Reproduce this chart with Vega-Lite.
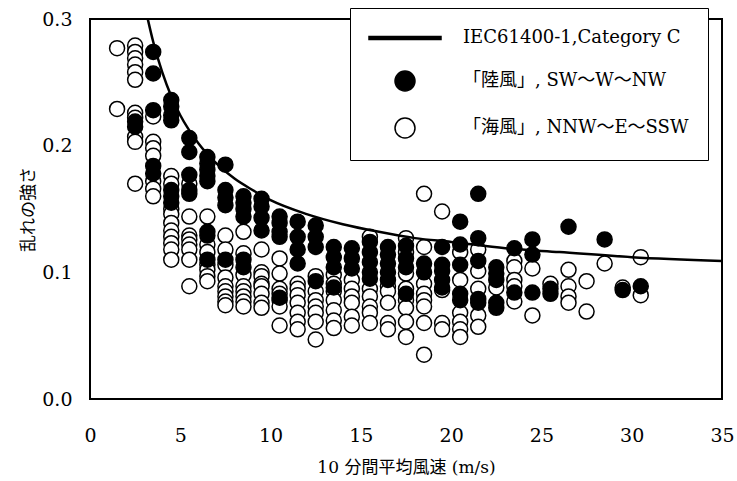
{
  "$schema": "https://vega.github.io/schema/vega-lite/v6.json",
  "width": 632,
  "height": 380,
  "autosize": {"type": "none"},
  "padding": {"left": 90, "top": 19, "right": 15, "bottom": 82},
  "background": "white",
  "config": {"view": {"stroke": "black", "strokeWidth": 2}, "font": "DejaVu Serif",
    "legend": {"title": null, "orient": "none", "legendX": 260, "legendY": -11, "padding": 19, "strokeColor": "black", "fillColor": "white",
      "symbolSize": 400, "symbolStrokeWidth": 1.5, "symbolStrokeColor": "black", "symbolOffset": 25, "labelOffset": 47,
      "labelFont": "DejaVu Serif, Noto Sans CJK JP", "labelFontSize": 18, "labelColor": "black", "labelLimit": 400, "rowPadding": 21}},
  "datasets": {
    "pts": [
      {"v":1.5,"t":0.277,"s":"S"},{"v":1.5,"t":0.229,"s":"S"},
      {"v":2.5,"t":0.279,"s":"S"},{"v":2.5,"t":0.274,"s":"S"},{"v":2.5,"t":0.269,"s":"S"},{"v":2.5,"t":0.264,"s":"S"},{"v":2.5,"t":0.258,"s":"S"},{"v":2.5,"t":0.252,"s":"S"},{"v":2.5,"t":0.226,"s":"S"},{"v":2.5,"t":0.222,"s":"S"},{"v":2.5,"t":0.207,"s":"S"},{"v":2.5,"t":0.203,"s":"S"},{"v":2.5,"t":0.170,"s":"S"},
      {"v":3.5,"t":0.223,"s":"S"},{"v":3.5,"t":0.203,"s":"S"},{"v":3.5,"t":0.198,"s":"S"},{"v":3.5,"t":0.192,"s":"S"},{"v":3.5,"t":0.172,"s":"S"},{"v":3.5,"t":0.166,"s":"S"},{"v":3.5,"t":0.160,"s":"S"},
      {"v":4.5,"t":0.176,"s":"S"},{"v":4.5,"t":0.170,"s":"S"},{"v":4.5,"t":0.150,"s":"S"},{"v":4.5,"t":0.146,"s":"S"},{"v":4.5,"t":0.139,"s":"S"},{"v":4.5,"t":0.133,"s":"S"},{"v":4.5,"t":0.128,"s":"S"},{"v":4.5,"t":0.123,"s":"S"},{"v":4.5,"t":0.118,"s":"S"},{"v":4.5,"t":0.110,"s":"S"},
      {"v":5.5,"t":0.170,"s":"S"},{"v":5.5,"t":0.144,"s":"S"},{"v":5.5,"t":0.129,"s":"S"},{"v":5.5,"t":0.126,"s":"S"},{"v":5.5,"t":0.122,"s":"S"},{"v":5.5,"t":0.118,"s":"S"},{"v":5.5,"t":0.110,"s":"S"},{"v":5.5,"t":0.089,"s":"S"},
      {"v":6.5,"t":0.144,"s":"S"},{"v":6.5,"t":0.122,"s":"S"},{"v":6.5,"t":0.116,"s":"S"},{"v":6.5,"t":0.106,"s":"S"},{"v":6.5,"t":0.102,"s":"S"},{"v":6.5,"t":0.097,"s":"S"},{"v":6.5,"t":0.093,"s":"S"},
      {"v":7.5,"t":0.129,"s":"S"},{"v":7.5,"t":0.118,"s":"S"},{"v":7.5,"t":0.106,"s":"S"},{"v":7.5,"t":0.096,"s":"S"},{"v":7.5,"t":0.089,"s":"S"},{"v":7.5,"t":0.085,"s":"S"},{"v":7.5,"t":0.081,"s":"S"},{"v":7.5,"t":0.077,"s":"S"},{"v":7.5,"t":0.074,"s":"S"},
      {"v":8.5,"t":0.132,"s":"S"},{"v":8.5,"t":0.115,"s":"S"},{"v":8.5,"t":0.098,"s":"S"},{"v":8.5,"t":0.089,"s":"S"},{"v":8.5,"t":0.085,"s":"S"},{"v":8.5,"t":0.081,"s":"S"},{"v":8.5,"t":0.077,"s":"S"},{"v":8.5,"t":0.073,"s":"S"},
      {"v":9.5,"t":0.118,"s":"S"},{"v":9.5,"t":0.100,"s":"S"},{"v":9.5,"t":0.097,"s":"S"},{"v":9.5,"t":0.091,"s":"S"},{"v":9.5,"t":0.089,"s":"S"},{"v":9.5,"t":0.083,"s":"S"},{"v":9.5,"t":0.076,"s":"S"},{"v":9.5,"t":0.072,"s":"S"},
      {"v":10.5,"t":0.111,"s":"S"},{"v":10.5,"t":0.099,"s":"S"},{"v":10.5,"t":0.087,"s":"S"},{"v":10.5,"t":0.083,"s":"S"},{"v":10.5,"t":0.078,"s":"S"},{"v":10.5,"t":0.073,"s":"S"},{"v":10.5,"t":0.058,"s":"S"},
      {"v":11.5,"t":0.091,"s":"S"},{"v":11.5,"t":0.087,"s":"S"},{"v":11.5,"t":0.082,"s":"S"},{"v":11.5,"t":0.076,"s":"S"},{"v":11.5,"t":0.068,"s":"S"},{"v":11.5,"t":0.061,"s":"S"},{"v":11.5,"t":0.055,"s":"S"},
      {"v":12.5,"t":0.097,"s":"S"},{"v":12.5,"t":0.085,"s":"S"},{"v":12.5,"t":0.078,"s":"S"},{"v":12.5,"t":0.073,"s":"S"},{"v":12.5,"t":0.068,"s":"S"},{"v":12.5,"t":0.061,"s":"S"},{"v":12.5,"t":0.047,"s":"S"},
      {"v":13.5,"t":0.098,"s":"S"},{"v":13.5,"t":0.091,"s":"S"},{"v":13.5,"t":0.085,"s":"S"},{"v":13.5,"t":0.078,"s":"S"},{"v":13.5,"t":0.070,"s":"S"},{"v":13.5,"t":0.062,"s":"S"},{"v":13.5,"t":0.056,"s":"S"},
      {"v":14.5,"t":0.094,"s":"S"},{"v":14.5,"t":0.087,"s":"S"},{"v":14.5,"t":0.081,"s":"S"},{"v":14.5,"t":0.076,"s":"S"},{"v":14.5,"t":0.065,"s":"S"},{"v":14.5,"t":0.058,"s":"S"},
      {"v":15.5,"t":0.128,"s":"S"},{"v":15.5,"t":0.087,"s":"S"},{"v":15.5,"t":0.081,"s":"S"},{"v":15.5,"t":0.073,"s":"S"},{"v":15.5,"t":0.068,"s":"S"},{"v":15.5,"t":0.060,"s":"S"},
      {"v":16.5,"t":0.089,"s":"S"},{"v":16.5,"t":0.085,"s":"S"},{"v":16.5,"t":0.076,"s":"S"},{"v":16.5,"t":0.060,"s":"S"},{"v":16.5,"t":0.055,"s":"S"},
      {"v":17.5,"t":0.127,"s":"S"},{"v":17.5,"t":0.116,"s":"S"},{"v":17.5,"t":0.099,"s":"S"},{"v":17.5,"t":0.087,"s":"S"},{"v":17.5,"t":0.078,"s":"S"},{"v":17.5,"t":0.072,"s":"S"},{"v":17.5,"t":0.061,"s":"S"},{"v":17.5,"t":0.049,"s":"S"},
      {"v":18.5,"t":0.162,"s":"S"},{"v":18.5,"t":0.120,"s":"S"},{"v":18.5,"t":0.091,"s":"S"},{"v":18.5,"t":0.083,"s":"S"},{"v":18.5,"t":0.078,"s":"S"},{"v":18.5,"t":0.073,"s":"S"},{"v":18.5,"t":0.060,"s":"S"},{"v":18.5,"t":0.035,"s":"S"},
      {"v":19.5,"t":0.148,"s":"S"},{"v":19.5,"t":0.086,"s":"S"},{"v":19.5,"t":0.060,"s":"S"},{"v":19.5,"t":0.055,"s":"S"},
      {"v":20.5,"t":0.116,"s":"S"},{"v":20.5,"t":0.094,"s":"S"},{"v":20.5,"t":0.068,"s":"S"},{"v":20.5,"t":0.061,"s":"S"},{"v":20.5,"t":0.055,"s":"S"},{"v":20.5,"t":0.049,"s":"S"},
      {"v":21.5,"t":0.118,"s":"S"},{"v":21.5,"t":0.101,"s":"S"},{"v":21.5,"t":0.087,"s":"S"},{"v":21.5,"t":0.066,"s":"S"},{"v":21.5,"t":0.057,"s":"S"},
      {"v":22.5,"t":0.088,"s":"S"},
      {"v":23.5,"t":0.109,"s":"S"},{"v":23.5,"t":0.104,"s":"S"},{"v":23.5,"t":0.094,"s":"S"},{"v":23.5,"t":0.089,"s":"S"},{"v":23.5,"t":0.077,"s":"S"},
      {"v":24.5,"t":0.103,"s":"S"},{"v":24.5,"t":0.066,"s":"S"},
      {"v":25.5,"t":0.091,"s":"S"},
      {"v":26.5,"t":0.102,"s":"S"},{"v":26.5,"t":0.089,"s":"S"},{"v":26.5,"t":0.081,"s":"S"},{"v":26.5,"t":0.076,"s":"S"},
      {"v":27.5,"t":0.093,"s":"S"},{"v":27.5,"t":0.069,"s":"S"},
      {"v":28.5,"t":0.107,"s":"S"},
      {"v":29.5,"t":0.088,"s":"S"},
      {"v":30.5,"t":0.112,"s":"S"},{"v":30.5,"t":0.082,"s":"S"},
      {"v":2.5,"t":0.219,"s":"L"},{"v":2.5,"t":0.215,"s":"L"},
      {"v":3.5,"t":0.274,"s":"L"},{"v":3.5,"t":0.257,"s":"L"},{"v":3.5,"t":0.228,"s":"L"},{"v":3.5,"t":0.184,"s":"L"},{"v":3.5,"t":0.178,"s":"L"},
      {"v":4.5,"t":0.236,"s":"L"},{"v":4.5,"t":0.231,"s":"L"},{"v":4.5,"t":0.224,"s":"L"},{"v":4.5,"t":0.220,"s":"L"},{"v":4.5,"t":0.165,"s":"L"},{"v":4.5,"t":0.160,"s":"L"},{"v":4.5,"t":0.155,"s":"L"},
      {"v":5.5,"t":0.206,"s":"L"},{"v":5.5,"t":0.195,"s":"L"},{"v":5.5,"t":0.177,"s":"L"},{"v":5.5,"t":0.165,"s":"L"},{"v":5.5,"t":0.162,"s":"L"},
      {"v":6.5,"t":0.191,"s":"L"},{"v":6.5,"t":0.186,"s":"L"},{"v":6.5,"t":0.181,"s":"L"},{"v":6.5,"t":0.176,"s":"L"},{"v":6.5,"t":0.172,"s":"L"},{"v":6.5,"t":0.132,"s":"L"},{"v":6.5,"t":0.129,"s":"L"},{"v":6.5,"t":0.110,"s":"L"},
      {"v":7.5,"t":0.185,"s":"L"},{"v":7.5,"t":0.165,"s":"L"},{"v":7.5,"t":0.159,"s":"L"},{"v":7.5,"t":0.153,"s":"L"},{"v":7.5,"t":0.110,"s":"L"},
      {"v":8.5,"t":0.160,"s":"L"},{"v":8.5,"t":0.155,"s":"L"},{"v":8.5,"t":0.150,"s":"L"},{"v":8.5,"t":0.144,"s":"L"},{"v":8.5,"t":0.110,"s":"L"},{"v":8.5,"t":0.104,"s":"L"},
      {"v":9.5,"t":0.158,"s":"L"},{"v":9.5,"t":0.152,"s":"L"},{"v":9.5,"t":0.143,"s":"L"},{"v":9.5,"t":0.133,"s":"L"},
      {"v":10.5,"t":0.144,"s":"L"},{"v":10.5,"t":0.139,"s":"L"},{"v":10.5,"t":0.132,"s":"L"},{"v":10.5,"t":0.128,"s":"L"},{"v":10.5,"t":0.080,"s":"L"},
      {"v":11.5,"t":0.140,"s":"L"},{"v":11.5,"t":0.128,"s":"L"},{"v":11.5,"t":0.118,"s":"L"},{"v":11.5,"t":0.107,"s":"L"},
      {"v":12.5,"t":0.137,"s":"L"},{"v":12.5,"t":0.128,"s":"L"},{"v":12.5,"t":0.120,"s":"L"},{"v":12.5,"t":0.093,"s":"L"},
      {"v":13.5,"t":0.120,"s":"L"},{"v":13.5,"t":0.112,"s":"L"},{"v":13.5,"t":0.104,"s":"L"},{"v":13.5,"t":0.088,"s":"L"},
      {"v":14.5,"t":0.119,"s":"L"},{"v":14.5,"t":0.111,"s":"L"},{"v":14.5,"t":0.103,"s":"L"},
      {"v":15.5,"t":0.124,"s":"L"},{"v":15.5,"t":0.116,"s":"L"},{"v":15.5,"t":0.108,"s":"L"},{"v":15.5,"t":0.100,"s":"L"},{"v":15.5,"t":0.095,"s":"L"},
      {"v":16.5,"t":0.120,"s":"L"},{"v":16.5,"t":0.114,"s":"L"},{"v":16.5,"t":0.107,"s":"L"},{"v":16.5,"t":0.100,"s":"L"},{"v":16.5,"t":0.094,"s":"L"},
      {"v":17.5,"t":0.121,"s":"L"},{"v":17.5,"t":0.111,"s":"L"},{"v":17.5,"t":0.104,"s":"L"},{"v":17.5,"t":0.083,"s":"L"},
      {"v":18.5,"t":0.107,"s":"L"},{"v":18.5,"t":0.100,"s":"L"},
      {"v":19.5,"t":0.120,"s":"L"},{"v":19.5,"t":0.106,"s":"L"},{"v":19.5,"t":0.101,"s":"L"},{"v":19.5,"t":0.094,"s":"L"},{"v":19.5,"t":0.088,"s":"L"},
      {"v":20.5,"t":0.140,"s":"L"},{"v":20.5,"t":0.122,"s":"L"},{"v":20.5,"t":0.106,"s":"L"},{"v":20.5,"t":0.083,"s":"L"},{"v":20.5,"t":0.078,"s":"L"},
      {"v":21.5,"t":0.162,"s":"L"},{"v":21.5,"t":0.127,"s":"L"},{"v":21.5,"t":0.109,"s":"L"},{"v":21.5,"t":0.079,"s":"L"},{"v":21.5,"t":0.076,"s":"L"},
      {"v":22.5,"t":0.104,"s":"L"},{"v":22.5,"t":0.099,"s":"L"},{"v":22.5,"t":0.094,"s":"L"},{"v":22.5,"t":0.076,"s":"L"},{"v":22.5,"t":0.072,"s":"L"},
      {"v":23.5,"t":0.119,"s":"L"},{"v":23.5,"t":0.084,"s":"L"},
      {"v":24.5,"t":0.126,"s":"L"},{"v":24.5,"t":0.114,"s":"L"},{"v":24.5,"t":0.084,"s":"L"},
      {"v":25.5,"t":0.087,"s":"L"},{"v":25.5,"t":0.083,"s":"L"},
      {"v":26.5,"t":0.136,"s":"L"},
      {"v":28.5,"t":0.126,"s":"L"},
      {"v":29.5,"t":0.086,"s":"L"},
      {"v":30.5,"t":0.089,"s":"L"}
    ],
    "curve": [
      {"v":3.2,"t":0.300},{"v":3.5,"t":0.282},{"v":4,"t":0.258},{"v":4.5,"t":0.239},{"v":5,"t":0.224},{"v":6,"t":0.202},{"v":7,"t":0.186},{"v":8,"t":0.174},{"v":9,"t":0.165},{"v":10,"t":0.157},{"v":12,"t":0.146},{"v":14,"t":0.138},{"v":16,"t":0.132},{"v":18,"t":0.127},{"v":20,"t":0.124},{"v":23,"t":0.119},{"v":26,"t":0.116},{"v":30,"t":0.112},{"v":35,"t":0.109}
    ]
  },
  "layer": [
    {
      "data": {"name": "pts"},
      "mark": {"type": "point", "filled": true, "strokeWidth": 1.5, "size": 225, "opacity": 1},
      "encoding": {
        "x": {"field": "v", "type": "quantitative", "scale": {"domain": [0, 35], "nice": false, "zero": false},
          "axis": {"title": "10 分間平均風速 (m/s)", "values": [0,5,10,15,20,25,30,35], "ticks": false, "grid": false, "domain": false,
            "labelFont": "DejaVu Serif", "labelFontSize": 19, "labelColor": "black", "labelPadding": 27, "labelFlush": false,
            "titleFont": "DejaVu Serif, Noto Sans CJK JP", "titleFontSize": 17, "titleFontWeight": "normal", "titleColor": "black", "titlePadding": 14}},
        "y": {"field": "t", "type": "quantitative", "scale": {"domain": [0, 0.3], "nice": false},
          "axis": {"title": "乱れの強さ", "values": [0, 0.1, 0.2, 0.3], "format": ".1f", "ticks": false, "grid": false, "domain": false,
            "labelFont": "DejaVu Serif", "labelFontSize": 19, "labelColor": "black", "labelPadding": 18, "labelFlush": false,
            "titleFont": "Noto Sans CJK JP", "titleFontSize": 17, "titleFontWeight": "normal", "titleColor": "black", "titlePadding": 4}},
        "shape": {"field": "s", "type": "nominal",
          "scale": {"domain": ["C", "L", "S"], "range": ["M-3.6,-0.15H3.6V0.15H-3.6Z", "circle", "circle"]},
          "legend": {"labelExpr": "datum.label == 'C' ? 'IEC61400-1,Category C' : datum.label == 'L' ? '「陸風」, SW～W～NW' : '「海風」, NNW～E～SSW'"}},
        "fill": {"field": "s", "type": "nominal",
          "scale": {"domain": ["C", "L", "S"], "range": ["black", "black", "white"]},
          "legend": {"labelExpr": "datum.label == 'C' ? 'IEC61400-1,Category C' : datum.label == 'L' ? '「陸風」, SW～W～NW' : '「海風」, NNW～E～SSW'"}},
        "stroke": {"field": "s", "type": "nominal",
          "scale": {"domain": ["C", "L", "S"], "range": ["black", "black", "black"]},
          "legend": {"labelExpr": "datum.label == 'C' ? 'IEC61400-1,Category C' : datum.label == 'L' ? '「陸風」, SW～W～NW' : '「海風」, NNW～E～SSW'"}}
      }
    },
    {
      "data": {"name": "curve"},
      "mark": {"type": "line", "color": "black", "strokeWidth": 2.5, "interpolate": "monotone", "clip": true},
      "encoding": {
        "x": {"field": "v", "type": "quantitative"},
        "y": {"field": "t", "type": "quantitative"}
      }
    }
  ]
}
